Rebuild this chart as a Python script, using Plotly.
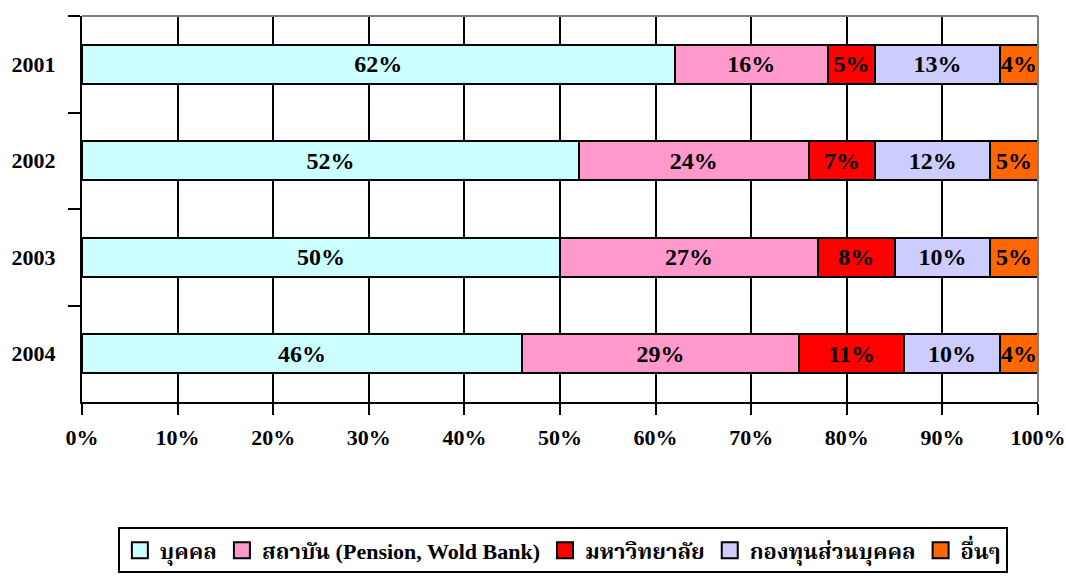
import plotly.graph_objects as go

years = ["2001", "2002", "2003", "2004"]
series_names = ["บุคคล", "สถาบัน (Pension, Wold Bank)", "มหาวิทยาลัย", "กองทุนส่วนบุคคล", "อื่นๆ"]
individual = [62, 52, 50, 46]
institution = [16, 24, 27, 29]
university = [5, 7, 8, 11]
private_fund = [13, 12, 10, 10]
others = [4, 5, 5, 4]
x_tick_values = [0, 10, 20, 30, 40, 50, 60, 70, 80, 90, 100]
x_tick_labels = ["0%", "10%", "20%", "30%", "40%", "50%", "60%", "70%", "80%", "90%", "100%"]

colors = ["#CCFFFF", "#FF99CC", "#FF0000", "#CCCCFF", "#FF6600"]
values = [individual, institution, university, private_fund, others]

FONT = "Liberation Serif, Noto Serif Thai, Times New Roman, serif"

fig = go.Figure()
for name, vals, color in zip(series_names, values, colors):
    fig.add_trace(go.Bar(
        y=years,
        x=vals,
        name=name,
        orientation="h",
        marker=dict(color=color, line=dict(color="black", width=2)),
        width=0.4,
        text=[f"{v}%" for v in vals],
        textposition="inside",
        insidetextanchor="middle",
        textangle=0,
        textfont=dict(family=FONT, size=24, color="black", weight="bold"),
        showlegend=False,
    ))

# Legend entries with larger square swatches
for name, color in zip(series_names, colors):
    fig.add_trace(go.Scatter(
        x=[None], y=[None],
        mode="markers",
        name=name,
        marker=dict(symbol="square", size=18, color=color, line=dict(color="black", width=2)),
        showlegend=True,
    ))

fig.update_layout(
    barmode="stack",
    width=1066,
    height=585,
    margin=dict(l=82, r=28, t=16, b=179),
    paper_bgcolor="white",
    plot_bgcolor="white",
    font=dict(family=FONT, size=22, color="black", weight="bold"),
    uniformtext=dict(minsize=24, mode="show"),
    showlegend=True,
    legend=dict(
        orientation="h",
        x=0.503, xanchor="center",
        y=-0.325, yanchor="top",
        bordercolor="black", borderwidth=2,
        font=dict(family=FONT, size=22, color="black", weight="bold"),
        traceorder="normal",
        itemclick=False,
        itemwidth=30,
        tracegroupgap=0,
    ),
    xaxis=dict(
        range=[0, 100],
        tickvals=x_tick_values,
        ticktext=x_tick_labels,
        showgrid=True, gridcolor="black", gridwidth=2,
        showline=True, linecolor="black", linewidth=2,
        ticks="outside", ticklen=11, tickwidth=2, tickcolor="black",
        ticklabelstandoff=4,
        tickfont=dict(family=FONT, size=22, color="black", weight="bold"),
        zeroline=False,
        automargin=False,
        fixedrange=True,
    ),
    yaxis=dict(
        categoryorder="array", categoryarray=years,
        autorange="reversed",
        showline=True, linecolor="black", linewidth=2,
        ticks="outside", ticklen=12, tickwidth=2, tickcolor="black",
        tickson="boundaries",
        ticklabelstandoff=20,
        tickfont=dict(family=FONT, size=22, color="black", weight="bold"),
        showgrid=False,
        automargin=False,
        fixedrange=True,
    ),
    shapes=[
        dict(type="line", xref="paper", yref="paper", x0=0, x1=1, y0=1, y1=1,
             line=dict(color="#808080", width=2)),
        dict(type="line", xref="paper", yref="paper", x0=1, x1=1, y0=0, y1=1,
             line=dict(color="#808080", width=2)),
    ],
)

fig.write_html("out.html")
